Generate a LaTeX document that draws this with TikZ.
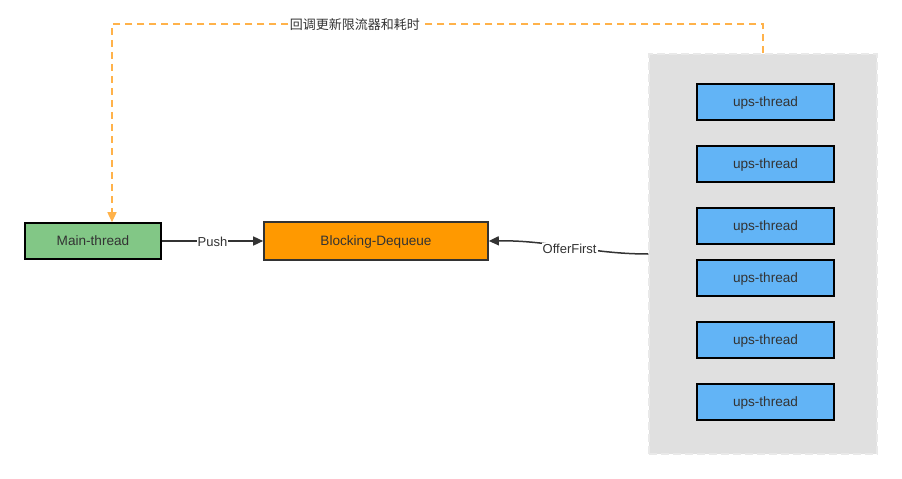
\documentclass[tikz,border=0pt]{standalone}
\usepackage{fontspec}
\setmainfont{Liberation Sans}
\newfontfamily\cjk{Noto Sans CJK SC}
\usetikzlibrary{positioning,arrows.meta}

\definecolor{mainGreen}{HTML}{82C786}
\definecolor{queueOrange}{HTML}{FF9900}
\definecolor{upsBlue}{HTML}{62B4F6}
\definecolor{poolGray}{HTML}{E0E0E0}
\definecolor{cbOrange}{HTML}{FFB24A}
\definecolor{txtGray}{HTML}{333333}

\tikzset{
  box/.style={draw=black,line width=1.6pt,inner sep=0pt,text depth=0pt,text=txtGray,font=\fontsize{13.6}{15}\selectfont},
  ups/.style={box,fill=upsBlue,minimum width=137pt,minimum height=36pt},
  lbl/.style={fill=white,inner sep=1pt,text depth=0pt,text=txtGray,font=\fontsize{13}{15}\selectfont},
  link/.style={draw=txtGray,line width=1.5pt,-{Triangle[length=10pt,width=9pt]}},
  callback/.style={draw=cbOrange,line width=1.5pt,dash pattern=on 7pt off 5pt,-{Triangle[length=10pt,width=9pt]}}
}

\begin{document}
\begin{tikzpicture}[x=1pt,y=-1pt]
  \useasboundingbox (0,0) rectangle (902,479);
  % thread pool
  \node[fill=poolGray,draw=poolGray!70!white,line width=1.5pt,dash pattern=on 8pt off 4pt,minimum width=228pt,minimum height=400pt,inner sep=0pt] (pool) at (763,254) {};
  \foreach \y [count=\i] in {102,164,226,278,340,402}
    \node[ups] (u\i) at (765.5,\y) {ups-thread};
  % main side
  \node[box,fill=mainGreen,minimum width=136pt,minimum height=36pt] (main) at (93,241) {Main-thread};
  \node[box,draw=txtGray,fill=queueOrange,minimum width=224pt,minimum height=38pt] (queue) at (376,241) {Blocking-Dequeue};
  \draw[link] (main) -- node[lbl,yshift=-1pt] {Push} (queue);
  \coordinate (offer) at (pool.west |- 0,254);
  \draw[link] (offer) .. controls (590,254) and (550,240) .. node[lbl,yshift=-1.5pt] {OfferFirst} (queue.east);
  % callback
  \coordinate (cbR) at (763,24);
  \coordinate (cbL) at (112,24);
  \draw[callback] (pool.north) -- (cbR) -- node[pos=0.627,lbl] {\cjk 回调更新限流器和耗时} (cbL) -- (main.north -| cbL);
\end{tikzpicture}
\end{document}
